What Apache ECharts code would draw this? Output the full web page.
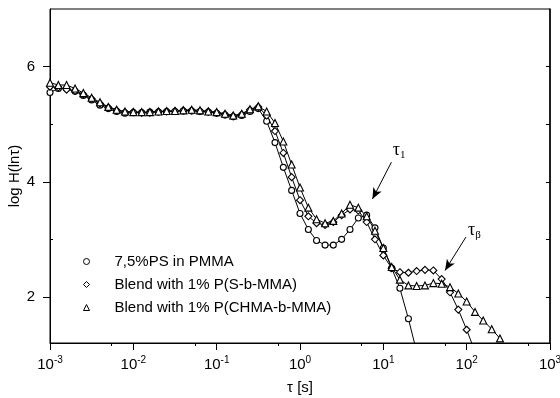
<!DOCTYPE html>
<html>
<head>
<meta charset="utf-8">
<script src="https://cdn.jsdelivr.net/npm/echarts@6/dist/echarts.min.js"></script>
<style>
  html, body { margin: 0; padding: 0; background: #fff; }
  #chart { width: 560px; height: 398px; }
</style>
</head>
<body>
<div id="chart"></div>
<script>
// relaxation time grid (s), ~10 points per decade
const tau = [0.001, 0.00126, 0.00158, 0.002, 0.00251, 0.00316, 0.00398, 0.00501, 0.00631, 0.00794,
    0.01, 0.0126, 0.0158, 0.02, 0.0251, 0.0316, 0.0398, 0.0501, 0.0631, 0.0794,
    0.1, 0.126, 0.158, 0.2, 0.251, 0.316, 0.398, 0.501, 0.631, 0.794,
    1, 1.26, 1.58, 2, 2.51, 3.16, 3.98, 5.01, 6.31, 7.94,
    10, 12.6, 15.8, 20, 25.1, 31.6, 39.8, 50.1, 63.1, 79.4,
    100, 126, 158, 200, 251];

const seriesNames = ['7,5%PS in PMMA', 'Blend with 1% P(S-b-MMA)', 'Blend with 1% P(CHMA-b-MMA)'];

// log H(ln tau)
const psPmma = [5.55, 5.62, 5.62, 5.57, 5.50, 5.42, 5.33, 5.27, 5.22, 5.19,
    5.20, 5.20, 5.21, 5.21, 5.22, 5.22, 5.23, 5.23, 5.22, 5.21,
    5.19, 5.16, 5.13, 5.15, 5.22, 5.27, 5.05, 4.68, 4.25, 3.85,
    3.45, 3.17, 2.98, 2.90, 2.90, 3.00, 3.17, 3.37, 3.42, 3.20,
    2.85, 2.50, 2.15, 1.62, 1.05];
const blendSMMA = [5.65, 5.64, 5.60, 5.58, 5.52, 5.44, 5.36, 5.29, 5.24, 5.21,
    5.21, 5.20, 5.20, 5.22, 5.22, 5.23, 5.24, 5.24, 5.23, 5.22,
    5.20, 5.17, 5.14, 5.17, 5.25, 5.30, 5.15, 4.88, 4.50, 4.08,
    3.68, 3.40, 3.28, 3.25, 3.30, 3.42, 3.52, 3.50, 3.30, 3.00,
    2.72, 2.50, 2.43, 2.42, 2.45, 2.47, 2.46, 2.31, 2.08, 1.78,
    1.43, 1.05];
const blendCHMA = [5.72, 5.68, 5.68, 5.62, 5.54, 5.46, 5.38, 5.30, 5.25, 5.22,
    5.21, 5.21, 5.21, 5.22, 5.23, 5.23, 5.24, 5.25, 5.24, 5.22,
    5.21, 5.18, 5.15, 5.18, 5.26, 5.31, 5.22, 5.02, 4.70, 4.30,
    3.90, 3.55, 3.35, 3.28, 3.32, 3.45, 3.60, 3.55, 3.40, 3.15,
    2.85, 2.52, 2.30, 2.20, 2.19, 2.20, 2.24, 2.23, 2.17, 2.06,
    1.92, 1.74, 1.59, 1.44, 1.28];

const yTicks = [2, 4, 6];
const yMinorTicks = [3, 5];

// annotation arrows [from, to] in data coords
const tau1Arrow = [[12.5, 4.34], [7.4, 3.70]];
const tauBArrow = [[98, 3.04], [55, 2.46]];
const tau1Label = [15.5, 4.55];
const tauBLabel = [124, 3.16];

const chart = echarts.init(document.getElementById('chart'));

const pair = function (vals) {
    return vals.map((v, i) => [tau[i], v]);
};

const makeSeries = function (name, vals, symbol, size) {
    return {
        name: name,
        type: 'line',
        data: pair(vals),
        symbol: symbol,
        symbolSize: size,
        showAllSymbol: true,
        lineStyle: { color: '#000', width: 1 },
        itemStyle: { color: '#fff', borderColor: '#000', borderWidth: 1.1 },
        animation: false,
        clip: true
    };
};

const arrowLine = function (a) {
    return {
        silent: true,
        animation: false,
        symbol: ['none', 'arrow'],
        symbolSize: [7, 11],
        lineStyle: { color: '#000', width: 1, type: 'solid' },
        label: { show: false },
        data: [[{ coord: a[0] }, { coord: a[1] }]]
    };
};

const tauLabel = function (pos, sub) {
    return {
        silent: true,
        animation: false,
        symbol: 'circle',
        symbolSize: 1,
        itemStyle: { color: 'rgba(0,0,0,0)', borderWidth: 0 },
        label: {
            show: true,
            position: 'inside',
            formatter: '{t|τ}{s|' + sub + '}',
            rich: {
                t: { fontFamily: 'Liberation Serif', fontSize: 18, color: '#000' },
                s: { fontFamily: 'Liberation Serif', fontSize: 11, color: '#000', padding: [10, 0, 0, 0] }
            }
        },
        data: [{ coord: pos }]
    };
};

const s1 = makeSeries(seriesNames[0], psPmma, 'circle', 6);
const s2 = makeSeries(seriesNames[1], blendSMMA, 'diamond', 7);
const s3 = makeSeries(seriesNames[2], blendCHMA, 'triangle', 7);
s1.markLine = arrowLine(tau1Arrow);
s1.markPoint = tauLabel(tau1Label, '1');
s2.markLine = arrowLine(tauBArrow);
s2.markPoint = tauLabel(tauBLabel, 'β');

chart.setOption({
    backgroundColor: '#fff',
    textStyle: { fontFamily: 'Liberation Sans, Arial, sans-serif' },
    grid: {
        left: 50, right: 10, top: 9, bottom: 55,
        outerBoundsMode: 'none',
        containLabel: false,
        show: true,
        borderColor: '#000',
        borderWidth: 1
    },
    legend: {
        orient: 'vertical',
        left: 78,
        top: 249,
        itemWidth: 6,
        itemHeight: 6,
        itemGap: 8,
        itemStyle: { color: '#fff', borderColor: '#000', borderWidth: 1 },
        textStyle: { fontSize: 15, color: '#000', padding: [0, 0, 0, 20] },
        data: [
            { name: seriesNames[0], icon: 'circle' },
            { name: seriesNames[1], icon: 'diamond' },
            { name: seriesNames[2], icon: 'triangle' }
        ]
    },
    xAxis: {
        type: 'log',
        logBase: 10,
        min: 0.001,
        max: 1000,
        name: 'τ [s]',
        nameLocation: 'middle',
        nameGap: 37,
        nameMoveOverlap: false,
        nameTextStyle: { fontSize: 15, color: '#000', fontFamily: 'Liberation Sans' },
        axisLine: { lineStyle: { color: '#000', width: 1 } },
        axisTick: { length: 7, lineStyle: { color: '#000' } },
        minorTick: { show: true, splitNumber: 2, length: 3, lineStyle: { color: '#000' } },
        splitLine: { show: false },
        axisLabel: {
            margin: 12,
            color: '#000',
            formatter: function (val) {
                const e = Math.round(Math.log10(val));
                return '{b|10}{e|' + e + '}';
            },
            rich: {
                b: { fontSize: 15, color: '#000', verticalAlign: 'bottom' },
                e: { fontSize: 10, color: '#000', verticalAlign: 'bottom', padding: [0, 0, 7, 0] }
            }
        }
    },
    yAxis: [{
        type: 'value',
        min: 1.2,
        max: 7,
        name: 'log H(lnτ)',
        nameLocation: 'middle',
        nameGap: 28,
        nameMoveOverlap: false,
        nameTextStyle: { fontSize: 15, color: '#000' },
        axisLine: { show: true, lineStyle: { color: '#000', width: 1 } },
        axisTick: { show: true, length: 7, customValues: yTicks, lineStyle: { color: '#000' } },
        axisLabel: { fontSize: 15, color: '#000', margin: 15, customValues: yTicks },
        splitLine: { show: false }
    }, {
        type: 'value',
        min: 1.2,
        max: 7,
        position: 'left',
        axisLine: { show: false },
        axisTick: { show: true, inside: true, length: 3, customValues: yMinorTicks, lineStyle: { color: '#000' } },
        axisLabel: { show: false },
        splitLine: { show: false }
    }, {
        type: 'value',
        min: 1.2,
        max: 7,
        position: 'right',
        axisLine: { show: true, lineStyle: { color: '#000', width: 1.5 } },
        axisTick: { show: true, inside: true, length: 4, customValues: yTicks.concat(yMinorTicks), lineStyle: { color: '#000' } },
        axisLabel: { show: false },
        splitLine: { show: false }
    }],
    series: [s1, s2, s3]
});
</script>
</body>
</html>
